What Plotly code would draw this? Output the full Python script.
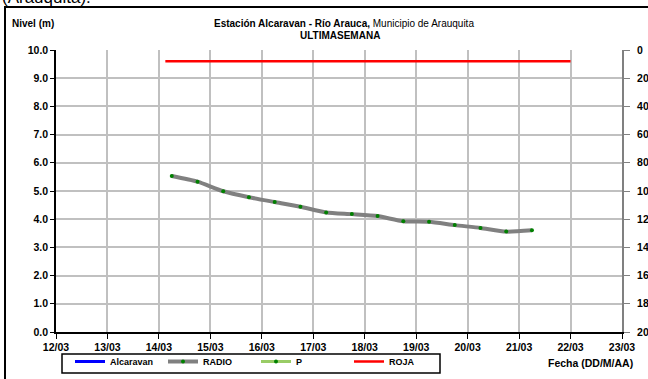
import plotly.graph_objects as go

# ---- data ----
radio_time = [
    "2019-03-14 06:00", "2019-03-14 18:00", "2019-03-15 06:00", "2019-03-15 18:00",
    "2019-03-16 06:00", "2019-03-16 18:00", "2019-03-17 06:00", "2019-03-17 18:00",
    "2019-03-18 06:00", "2019-03-18 18:00", "2019-03-19 06:00", "2019-03-19 18:00",
    "2019-03-20 06:00", "2019-03-20 18:00", "2019-03-21 06:00",
]
radio_level = [5.53, 5.33, 4.99, 4.78, 4.61, 4.44, 4.24, 4.18, 4.11,
               3.93, 3.91, 3.79, 3.69, 3.56, 3.61]

roja_time = ["2019-03-14 03:00", "2019-03-22 00:00"]
roja_level = [9.6, 9.6]

x_range = ["2019-03-12", "2019-03-23"]
y_left_ticks = [0, 1, 2, 3, 4, 5, 6, 7, 8, 9, 10]
y_right_ticks = [0, 20, 40, 60, 80, 100, 120, 140, 160, 180, 200]

# ---- geometry (px) ----
W, H = 648, 379
L, R, T, B = 56, 622, 50, 332


def px_x(px):
    return (px - L) / (R - L)


def px_y(py):
    return (B - py) / (B - T)


FONT = "Arial, Liberation Sans, sans-serif"
GRID = "#c0c0c0"

fig = go.Figure()

fig.add_trace(go.Scatter(
    x=[None], y=[None], mode="lines", name="Alcaravan",
    line=dict(color="#0000ff", width=3),
))
fig.add_trace(go.Scatter(
    x=radio_time, y=radio_level, mode="lines+markers", name="RADIO",
    line=dict(color="#808080", width=4, shape="spline", smoothing=0.6),
    marker=dict(color="#008000", size=4),
))
fig.add_trace(go.Scatter(
    x=[None], y=[None], mode="lines+markers", name="P",
    line=dict(color="#99cc66", width=3),
    marker=dict(color="#008000", size=4),
))
fig.add_trace(go.Scatter(
    x=roja_time, y=roja_level, mode="lines", name="ROJA",
    line=dict(color="#ff0000", width=2.5),
))
# invisible trace to activate right axis
fig.add_trace(go.Scatter(
    x=[None], y=[None], yaxis="y2", showlegend=False, hoverinfo="skip",
))

tickfont = dict(family=FONT, size=10.5, color="black", weight="bold")

fig.update_layout(
    width=W, height=H,
    margin=dict(l=L, r=W - R, t=T, b=H - B, autoexpand=False),
    plot_bgcolor="white", paper_bgcolor="white",
    font=dict(family=FONT, color="black"),
    showlegend=True,
    legend=dict(
        orientation="h", x=px_x(70), y=px_y(347), xanchor="left", yanchor="top",
        borderwidth=0, bgcolor="rgba(0,0,0,0)",
        font=dict(family=FONT, size=9, color="black", weight="bold"),
        entrywidth=48, itemwidth=30, tracegroupgap=0,
    ),
    xaxis=dict(
        type="date", range=x_range, dtick=86400000, tickformat="%d/%m",
        showgrid=True, gridcolor=GRID, gridwidth=1.5,
        showline=True, linecolor="black", linewidth=1.5,
        ticks="outside", ticklen=5, tickcolor="black",
        tickfont=tickfont, zeroline=False, automargin=False,
    ),
    yaxis=dict(
        range=[0, 10], tickvals=y_left_ticks, tickformat=".1f",
        showgrid=True, gridcolor=GRID, gridwidth=1.5,
        showline=True, linecolor="black", linewidth=1.5,
        ticks="outside", ticklen=4, tickcolor="black",
        tickfont=tickfont, zeroline=False, automargin=False,
    ),
    yaxis2=dict(
        overlaying="y", side="right", range=[200, 0], tickvals=y_right_ticks,
        showgrid=False, showline=True, linecolor="#808080", linewidth=2,
        ticks="outside", ticklen=6, tickcolor="#808080", ticklabelstandoff=5,
        tickfont=tickfont, zeroline=False, automargin=False,
    ),
)

# frame around the chart (runs off the page right and bottom)
fig.add_shape(
    type="rect", xref="paper", yref="paper",
    x0=px_x(5), x1=px_x(700), y0=px_y(420), y1=px_y(7),
    line=dict(color="black", width=2), fillcolor="rgba(0,0,0,0)", layer="below",
)
# legend box
fig.add_shape(
    type="rect", xref="paper", yref="paper",
    x0=px_x(62), x1=px_x(440), y0=px_y(373), y1=px_y(354),
    line=dict(color="black", width=1.5), fillcolor="rgba(0,0,0,0)",
)

# top edge text, cut by the page as in the source
fig.add_annotation(
    text="(Arauquita).", xref="paper", yref="paper",
    x=px_x(0), y=px_y(-2), xanchor="left", yanchor="middle",
    showarrow=False, font=dict(family=FONT, size=17, color="black"),
)
fig.add_annotation(
    text="<b>Nivel (m)</b>", xref="paper", yref="paper",
    x=px_x(10), y=px_y(24), xanchor="left", yanchor="middle",
    showarrow=False, font=dict(family=FONT, size=10, color="black"),
)
fig.add_annotation(
    text="<b>Estación Alcaravan - Río Arauca,</b> Municipio de Arauquita",
    xref="paper", yref="paper", x=px_x(344), y=px_y(24),
    xanchor="center", yanchor="middle", showarrow=False,
    font=dict(family=FONT, size=10, color="black"),
)
fig.add_annotation(
    text="<b>ULTIMASEMANA</b>", xref="paper", yref="paper",
    x=px_x(340), y=px_y(35), xanchor="center", yanchor="middle",
    showarrow=False, font=dict(family=FONT, size=10, color="black"),
)
fig.add_annotation(
    text="<b>Fecha (DD/M/AA)</b>", xref="paper", yref="paper",
    x=px_x(546), y=px_y(363), xanchor="left", yanchor="middle",
    showarrow=False, font=dict(family=FONT, size=10.5, color="black"),
)

# the page's default body margin would shift the chart by 8 px
fig.write_html(
    "out.html",
    config={"displayModeBar": False},
    post_script="document.body.style.margin='0';",
)
